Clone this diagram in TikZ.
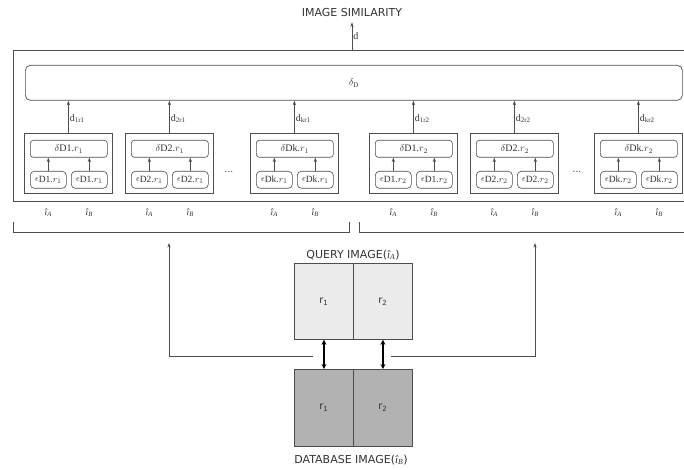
\documentclass[tikz,border=0pt]{standalone}
\usepackage{fontspec}
\setmainfont{Liberation Serif}
\newfontfamily\sansf{DejaVu Sans}
\usetikzlibrary{arrows.meta}
\definecolor{qfill}{HTML}{EBEBEB}
\definecolor{dbfill}{HTML}{B2B2B2}
\definecolor{ln}{HTML}{4D4D4D}
\definecolor{txt}{HTML}{333333}
\newcommand{\hatA}{{\itshape î}\textsubscript{\itshape A}}
\newcommand{\hatB}{{\itshape î}\textsubscript{\itshape B}}
\begin{document}
\begin{tikzpicture}[x=1pt,y=-1pt,
  line/.style={draw=ln, line width=0.7pt},
  arr/.style={draw=ln, line width=0.7pt, -{Stealth[length=4.5pt,width=3.2pt]}},
  darr/.style={draw=black, line width=1.8pt, {Stealth[length=5pt,width=5pt]}-{Stealth[length=5pt,width=5pt]}},
  subbox/.style={draw=ln, line width=0.8pt, minimum width=88pt, minimum height=60pt, inner sep=0pt, anchor=north west},
  dlbox/.style={draw=ln, line width=0.6pt, rounded corners=3pt, minimum width=77pt, minimum height=17pt, inner sep=0pt, anchor=north west, font=\fontsize{10}{11}\selectfont, text=txt},
  epsbox/.style={draw=ln, line width=0.6pt, rounded corners=4pt, minimum width=36pt, minimum height=17pt, inner sep=0pt, anchor=north west, font=\fontsize{9.5}{10}\selectfont, text=txt},
  dlab/.style={anchor=west, inner sep=1pt, font=\fontsize{10}{11}\selectfont, text=txt},
  hatlab/.style={inner sep=0pt, font=\fontsize{9.5}{10}\selectfont, text=txt},
  caps/.style={font=\sansf\fontsize{11}{13}\selectfont, text=txt, inner sep=2pt},
  region/.style={draw=ln, line width=0.8pt, minimum width=59pt, inner sep=0pt, anchor=north west, font=\sansf\fontsize{10}{12}\selectfont, text=txt},
  dots/.style={font=\sansf\fontsize{9}{10}\selectfont, text=txt, inner sep=0pt}
]
\useasboundingbox (0,0) rectangle (684,470);
% title
\node[caps] (title) at (352,12) {IMAGE SIMILARITY};
% outer container
\node[draw=ln, line width=0.8pt, minimum width=675pt, minimum height=151pt, inner sep=0pt, anchor=north west] (outer) at (13,50) {};
\coordinate (dtail) at (352,50);
\draw[arr, shorten >=4pt] (dtail) -- (title.south -| dtail) node[pos=0.45, right, dlab] {d};
% delta_D
\node[draw=ln, line width=0.7pt, rounded corners=5pt, minimum width=657pt, minimum height=35pt, inner sep=0pt, anchor=north west, font=\fontsize{10}{11}\selectfont, text=txt] (dD) at (25,65) {$\delta_{\mathrm{D}}$};
% sub boxes
\coordinate (hatrow) at (0,213);
\foreach \i/\L/\n/\r in {1/24/1/1, 2/125/2/1, 3/250/k/1, 4/369/1/2, 5/470/2/2, 6/594/k/2}{
  \node[subbox] (b\i) at (\L,133) {};
  \node[dlbox] (dl\i) at (\L+6,140) {$\delta$D\n.$r_{\r}$};
  \node[epsbox] (ea\i) at (\L+6,171) {$\epsilon$\raisebox{-1pt}{D\n.$r_{\r}$}};
  \node[epsbox] (eb\i) at (\L+47,171) {$\epsilon$\raisebox{-1pt}{D\n.$r_{\r}$}};
  \draw[arr] (ea\i.north) -- (ea\i.north |- dl\i.south);
  \draw[arr] (eb\i.north) -- (eb\i.north |- dl\i.south);
  \draw[arr] (b\i.north) -- (b\i.north |- dD.south) node[pos=0.45, dlab] {d\textsubscript{\n r\r}};
  \node[hatlab] (ha\i) at (ea\i.north |- hatrow) {\hatA};
  \node[hatlab] (hb\i) at (eb\i.north |- hatrow) {\hatB};
}
\node[dots] (dotsl) at (229,172) {...};
\node[dots] (dotsr) at (577,172) {...};
% brackets
\draw[line] (13,222) -- (13,232) -- (349,232) -- (349,222);
\draw[line] (359,222) -- (359,232) -- (690,232) -- (690,222);
% query image
\node[caps] (qlab) at (353,255) {QUERY IMAGE({\fontspec{Liberation Serif}\hatA})};
\node[region, fill=qfill, minimum height=76pt] (q1) at (294,263) {r\textsubscript{1}};
\node[region, fill=qfill, minimum height=76pt] (q2) at (353,263) {r\textsubscript{2}};
% database image
\node[region, fill=dbfill, minimum height=77pt] (db1) at (294,369) {r\textsubscript{1}};
\node[region, fill=dbfill, minimum height=77pt] (db2) at (353,369) {r\textsubscript{2}};
\node[caps] (dblab) at (351,460) {DATABASE IMAGE({\fontspec{Liberation Serif}\hatB})};
% double arrows
\draw[darr] (q1.south) -- (db1.north);
\draw[darr] (q2.south) -- (db2.north);
% feedback lines
\coordinate (hl) at (313,356);
\coordinate (lt) at (169,243);
\coordinate (hr) at (391,356);
\coordinate (rt) at (535,243);
\draw[arr] (hl) -| (lt);
\draw[arr] (hr) -| (rt);
\end{tikzpicture}
\end{document}
